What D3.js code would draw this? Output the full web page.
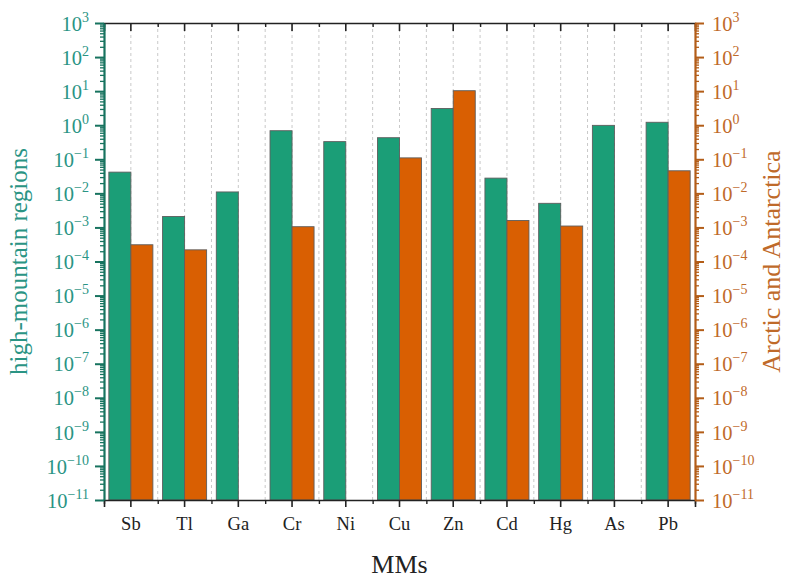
<!DOCTYPE html>
<html>
<head>
<meta charset="utf-8">
<script src="https://cdn.jsdelivr.net/npm/d3@7"></script>
<style>
  body { margin: 0; background: #fff; }
  svg { font-family: "Liberation Serif", "Times New Roman", serif; }
  .grid line { stroke: #c9c9c9; stroke-dasharray: 3,3; stroke-width: 1; }
</style>
</head>
<body>
<svg id="chart"></svg>
<script>
// categories and values
const categories = ['Sb', 'Tl', 'Ga', 'Cr', 'Ni', 'Cu', 'Zn', 'Cd', 'Hg', 'As', 'Pb'];
const highMountain = [0.042, 2.1e-3, 0.011, 0.69, 0.33, 0.43, 3.1, 0.028, 5.1e-3, 0.99, 1.22];
const arcticAntarctica = [3.1e-4, 2.2e-4, null, 1.05e-3, null, 0.11, 10.3, 1.6e-3, 1.1e-3, null, 0.046];
const exponents = [-11, -10, -9, -8, -7, -6, -5, -4, -3, -2, -1, 0, 1, 2, 3];
const seriesNames = ['high-mountain regions', 'Arctic and Antarctica'];

const config = {
  width: 792, height: 581,
  margin: {top: 23, right: 97, bottom: 81, left: 104},
  green: '#1b9e77', orange: '#d95f02',
  leftLine: '#17735f', leftText: '#2a9484',
  rightLine: '#b35d18', rightText: '#bf6a2a'
};

const W = config.width - config.margin.left - config.margin.right;
const H = config.height - config.margin.top - config.margin.bottom;

const svg = d3.select('#chart')
    .attr('width', config.width)
    .attr('height', config.height);

const chart = svg.append('g')
    .attr('transform', `translate(${config.margin.left},${config.margin.top})`);

// scales
const x0 = d3.scaleBand().domain(categories).range([0, W]).padding(0);
const x1 = d3.scaleBand().domain(seriesNames).range([0, x0.bandwidth()]).paddingInner(0).paddingOuter(0.22);
const y = d3.scaleLog().domain([1e-11, 1e3]).range([H, 0]);

const majorY = exponents.map(e => Math.pow(10, e));
const minorY = [];
exponents.slice(0, -1).forEach(e => {
  for (let k = 2; k <= 9; k++) minorY.push(k * Math.pow(10, e));
});
const edges = categories.map(c => x0(c)).concat([W]);
const centers = categories.map(c => x0(c) + x0.bandwidth() / 2);

// dashed grid at centers and band edges
const grid = chart.append('g').attr('class', 'grid');
grid.selectAll('line')
    .data(centers.concat(edges.slice(1, -1)))
  .join('line')
    .attr('x1', d => d).attr('x2', d => d)
    .attr('y1', 0).attr('y2', H);

// bars
const rows = categories.map((c, i) => ({
  cat: c,
  vals: [
    {s: seriesNames[0], v: highMountain[i], color: config.green},
    {s: seriesNames[1], v: arcticAntarctica[i], color: config.orange}
  ].filter(d => d.v != null)
}));

chart.append('g').selectAll('g')
    .data(rows)
  .join('g')
    .attr('transform', d => `translate(${x0(d.cat)},0)`)
  .selectAll('rect')
    .data(d => d.vals)
  .join('rect')
    .attr('x', d => x1(d.s))
    .attr('width', x1.bandwidth())
    .attr('y', d => y(d.v))
    .attr('height', d => H - y(d.v))
    .attr('fill', d => d.color)
    .attr('stroke', '#5e5e5e')
    .attr('stroke-width', 0.9);

// category axes (bottom + top)
const xMajor = d3.axisBottom(x0).tickSizeOuter(0).tickSize(7).tickPadding(10);
const xBottom = chart.append('g').attr('transform', `translate(0,${H})`).call(xMajor);
xBottom.select('.domain').attr('stroke', '#222').attr('stroke-width', 1.6);
xBottom.selectAll('.tick line').attr('stroke', '#222').attr('stroke-width', 1.6);
xBottom.selectAll('.tick text')
    .attr('font-size', 18.5).attr('fill', '#222')
    .style('font-family', '"Liberation Serif", serif');

const edgeScale = d3.scaleLinear().domain([0, W]).range([0, W]);
chart.append('g').attr('transform', `translate(0,${H})`)
    .call(d3.axisBottom(edgeScale).tickValues(edges).tickSize(4).tickFormat('').tickSizeOuter(0))
    .call(g => g.select('.domain').remove())
    .call(g => g.selectAll('line').attr('stroke', '#222').attr('stroke-width', 1.4));

const xTop = chart.append('g')
    .call(d3.axisBottom(x0).tickSizeOuter(0).tickSize(8).tickFormat(''));
xTop.select('.domain').attr('stroke', '#222').attr('stroke-width', 1.6);
xTop.selectAll('.tick line').attr('stroke', '#222').attr('stroke-width', 1.6);
chart.append('g')
    .call(d3.axisBottom(edgeScale).tickValues(edges).tickSize(4).tickFormat('').tickSizeOuter(0))
    .call(g => g.select('.domain').remove())
    .call(g => g.selectAll('line').attr('stroke', '#222').attr('stroke-width', 1.4));

// power-of-ten labels
function powLabel(sel) {
  sel.each(function(d) {
    const e = Math.round(Math.log10(d));
    const t = d3.select(this).text(null);
    t.append('tspan').text('10');
    t.append('tspan')
        .attr('dy', -9)
        .attr('font-size', 14)
        .text(String(e).replace('-', '\u2212'));
  });
}

// left log axis
const yLeft = chart.append('g')
    .call(d3.axisLeft(y).tickValues(majorY).tickSize(9).tickSizeOuter(0).tickPadding(6));
yLeft.select('.domain').attr('stroke', config.leftLine).attr('stroke-width', 2.2);
yLeft.selectAll('.tick line').attr('stroke', config.leftLine).attr('stroke-width', 2);
yLeft.selectAll('.tick text')
    .attr('font-size', 20.5).attr('fill', config.leftText)
    .attr('dy', '0.35em')
    .style('font-family', '"Liberation Serif", serif')
    .call(powLabel);
chart.append('g')
    .call(d3.axisLeft(y).tickValues(minorY).tickSize(4).tickFormat('').tickSizeOuter(0))
    .call(g => g.select('.domain').remove())
    .call(g => g.selectAll('line').attr('stroke', config.leftLine).attr('stroke-width', 1.3));

// right log axis
const yRight = chart.append('g').attr('transform', `translate(${W},0)`)
    .call(d3.axisRight(y).tickValues(majorY).tickSize(9).tickSizeOuter(0).tickPadding(8));
yRight.select('.domain').attr('stroke', config.rightLine).attr('stroke-width', 2.2);
yRight.selectAll('.tick line').attr('stroke', config.rightLine).attr('stroke-width', 2);
yRight.selectAll('.tick text')
    .attr('font-size', 20.5).attr('fill', config.rightText)
    .attr('dy', '0.35em')
    .style('font-family', '"Liberation Serif", serif')
    .call(powLabel);
chart.append('g').attr('transform', `translate(${W},0)`)
    .call(d3.axisRight(y).tickValues(minorY).tickSize(4).tickFormat('').tickSizeOuter(0))
    .call(g => g.select('.domain').remove())
    .call(g => g.selectAll('line').attr('stroke', config.rightLine).attr('stroke-width', 1.3));

// axis titles
svg.append('text')
    .attr('x', config.margin.left + W / 2)
    .attr('y', 573)
    .attr('text-anchor', 'middle')
    .attr('font-size', 26)
    .attr('fill', '#222')
    .text('MMs');

svg.append('text')
    .attr('transform', `translate(27,${config.margin.top + H / 2}) rotate(-90)`)
    .attr('text-anchor', 'middle')
    .attr('font-size', 25)
    .attr('fill', config.leftText)
    .text(seriesNames[0]);

svg.append('text')
    .attr('transform', `translate(780,${config.margin.top + H / 2}) rotate(-90)`)
    .attr('text-anchor', 'middle')
    .attr('font-size', 26)
    .attr('fill', config.rightText)
    .text(seriesNames[1]);
</script>
</body>
</html>
